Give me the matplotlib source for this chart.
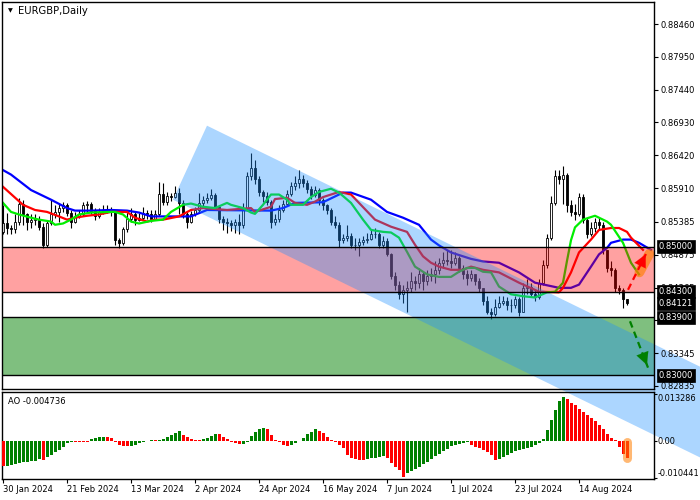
import numpy as np
import matplotlib.pyplot as plt
import matplotlib.transforms as mtransforms
from matplotlib.patches import Polygon

# ---- daily candles (EURGBP) ----
first_open = 0.8523
closes = [0.8537, 0.8529, 0.8528, 0.8539, 0.8567, 0.8551, 0.8539, 0.8542, 0.8543, 0.8531,
          0.8503, 0.8536, 0.8550, 0.8554, 0.8560, 0.8565, 0.8553, 0.8539, 0.8548, 0.8551,
          0.8564, 0.8567, 0.8556, 0.8548, 0.8554, 0.8556, 0.8559, 0.8554, 0.8511, 0.8506,
          0.8528, 0.8543, 0.8551, 0.8542, 0.8545, 0.8553, 0.8550, 0.8543, 0.8551, 0.8582,
          0.8570, 0.8579, 0.8577, 0.8584, 0.8568, 0.8550, 0.8539, 0.8551, 0.8557, 0.8568,
          0.8573, 0.8576, 0.8581, 0.8562, 0.8543, 0.8539, 0.8537, 0.8533, 0.8539, 0.8533,
          0.8560, 0.8610, 0.8622, 0.8605, 0.8585, 0.8579, 0.8570, 0.8539, 0.8543, 0.8557,
          0.8567, 0.8582, 0.8595, 0.8599, 0.8605, 0.8599, 0.8590, 0.8581, 0.8588, 0.8573,
          0.8564, 0.8557, 0.8539, 0.8534, 0.8511, 0.8514, 0.8517, 0.8502, 0.8503, 0.8508,
          0.8511, 0.8512, 0.8519, 0.8520, 0.8502, 0.8509, 0.8488, 0.8455, 0.8441, 0.8426,
          0.8433, 0.8436, 0.8447, 0.8444, 0.8457, 0.8447, 0.8454, 0.8458, 0.8464, 0.8474,
          0.8480, 0.8477, 0.8474, 0.8483, 0.8467, 0.8458, 0.8452, 0.8457, 0.8447, 0.8436,
          0.8415, 0.8399, 0.8395, 0.8407, 0.8413, 0.8416, 0.8409, 0.8409, 0.8418, 0.8399,
          0.8435, 0.8438, 0.8427, 0.8421, 0.8443, 0.8472, 0.8514, 0.8568, 0.8610, 0.8605,
          0.8612, 0.8565, 0.8554, 0.8551, 0.8577, 0.8542, 0.8520, 0.8529, 0.8539, 0.8534,
          0.8495, 0.8467, 0.8464, 0.8436, 0.8433, 0.8418, 0.84121]
highs = [0.8565, 0.8553, 0.8534, 0.8550, 0.8576, 0.8573, 0.8553, 0.8550, 0.8551, 0.8548,
         0.8536, 0.8542, 0.8574, 0.8565, 0.8568, 0.8570, 0.8568, 0.8557, 0.8554, 0.8557,
         0.8570, 0.8571, 0.8570, 0.8560, 0.8560, 0.8564, 0.8564, 0.8562, 0.8557, 0.8514,
         0.8531, 0.8554, 0.8560, 0.8554, 0.8553, 0.8562, 0.8557, 0.8557, 0.8557, 0.8601,
         0.8599, 0.8585, 0.8584, 0.8595, 0.8591, 0.8572, 0.8554, 0.8556, 0.8562, 0.8584,
         0.8579, 0.8584, 0.8590, 0.8584, 0.8565, 0.8548, 0.8545, 0.8542, 0.8543, 0.8550,
         0.8568, 0.8616, 0.8646, 0.8635, 0.8610, 0.8588, 0.8585, 0.8573, 0.8551, 0.8564,
         0.8573, 0.8588, 0.8601, 0.8610, 0.8619, 0.8612, 0.8604, 0.8595, 0.8595, 0.8591,
         0.8576, 0.8567, 0.8560, 0.8547, 0.8539, 0.8520, 0.8533, 0.8522, 0.8514, 0.8514,
         0.8517, 0.8522, 0.8526, 0.8529, 0.8523, 0.8517, 0.8514, 0.8490, 0.8461, 0.8446,
         0.8441, 0.8446, 0.8461, 0.8455, 0.8467, 0.8461, 0.8464, 0.8467, 0.8477, 0.8483,
         0.8492, 0.8495, 0.8495, 0.8492, 0.8486, 0.8471, 0.8464, 0.8464, 0.8458, 0.8452,
         0.8436, 0.8424, 0.8405, 0.8418, 0.8424, 0.8424, 0.8421, 0.8418, 0.8424, 0.8421,
         0.8443, 0.8449, 0.8443, 0.8432, 0.8449, 0.8480, 0.8520, 0.8579, 0.8619, 0.8619,
         0.8626, 0.8615, 0.8573, 0.8567, 0.8584, 0.8582, 0.8545, 0.8539, 0.8545, 0.8545,
         0.8539, 0.8495, 0.8477, 0.8467, 0.8440, 0.8435, 0.8418]
lows = [0.8519, 0.8520, 0.8520, 0.8522, 0.8533, 0.8533, 0.8526, 0.8529, 0.8534, 0.8526,
        0.8498, 0.8500, 0.8533, 0.8545, 0.8539, 0.8554, 0.8548, 0.8529, 0.8536, 0.8545,
        0.8548, 0.8554, 0.8551, 0.8542, 0.8545, 0.8551, 0.8553, 0.8548, 0.8503, 0.8498,
        0.8503, 0.8523, 0.8539, 0.8533, 0.8540, 0.8542, 0.8543, 0.8539, 0.8542, 0.8548,
        0.8564, 0.8565, 0.8571, 0.8576, 0.8550, 0.8545, 0.8529, 0.8536, 0.8548, 0.8554,
        0.8560, 0.8568, 0.8573, 0.8557, 0.8536, 0.8526, 0.8522, 0.8525, 0.8522, 0.8520,
        0.8529, 0.8558, 0.8604, 0.8598, 0.8579, 0.8570, 0.8564, 0.8529, 0.8533, 0.8539,
        0.8554, 0.8564, 0.8579, 0.8588, 0.8591, 0.8593, 0.8584, 0.8574, 0.8577, 0.8565,
        0.8557, 0.8551, 0.8533, 0.8529, 0.8500, 0.8506, 0.8509, 0.8498, 0.8495, 0.8485,
        0.8502, 0.8505, 0.8511, 0.8514, 0.8498, 0.8498, 0.8485, 0.8449, 0.8433, 0.8418,
        0.8412, 0.8398, 0.8430, 0.8433, 0.8436, 0.8433, 0.8440, 0.8446, 0.8444, 0.8458,
        0.8467, 0.8471, 0.8467, 0.8471, 0.8461, 0.8449, 0.8441, 0.8446, 0.8441, 0.8430,
        0.8410, 0.8395, 0.8387, 0.8393, 0.8405, 0.8409, 0.8402, 0.8399, 0.8404, 0.8393,
        0.8399, 0.8426, 0.8421, 0.8415, 0.8418, 0.8440, 0.8467, 0.8511, 0.8564, 0.8598,
        0.8567, 0.8554, 0.8548, 0.8542, 0.8548, 0.8536, 0.8514, 0.8517, 0.8523, 0.8526,
        0.8489, 0.8461, 0.8455, 0.8430, 0.8427, 0.8405, 0.8409]

# ---- Alligator lines (bar index, price) ----
jaw_x = [0, 2, 7, 12, 16, 18, 22, 27, 31, 34, 37, 40, 47, 51, 67, 70, 73, 80, 85, 87,
         92, 96, 100, 104, 107, 109, 112, 117, 120, 124, 129, 133, 136, 139, 142, 144, 147, 149, 151, 152,
         155, 157, 159, 162]
jaw_y = [0.8619, 0.8612, 0.8588, 0.8573, 0.8560, 0.8556, 0.8556, 0.8557, 0.8556, 0.8553,
         0.8547, 0.8547, 0.8547, 0.8557, 0.8556, 0.8560, 0.8568, 0.8569, 0.8584, 0.8584,
         0.8573, 0.8554, 0.8545, 0.8534, 0.8511, 0.8502, 0.8491, 0.8481, 0.8477, 0.8475,
         0.8460, 0.8444, 0.8440, 0.8436, 0.8436, 0.8441, 0.8469, 0.8488, 0.8498, 0.8506,
         0.8511, 0.8511, 0.8506, 0.8495]
teeth_x = [0, 5, 8, 11, 14, 16, 18, 21, 24, 27, 31, 33, 36, 38, 40, 44, 47, 50, 56, 62,
           63, 67, 68, 71, 73, 76, 78, 80, 84, 87, 89, 93, 97, 101, 103, 105, 107, 109, 112, 115,
           117, 120, 124, 129, 134, 139, 140, 142, 144, 147, 149, 152, 154, 156, 157, 160]
teeth_y = [0.8593, 0.8565, 0.8557, 0.8554, 0.8547, 0.8542, 0.8545, 0.8548, 0.8550, 0.8554,
           0.8554, 0.8545, 0.8539, 0.8542, 0.8542, 0.8547, 0.8557, 0.8560, 0.8557, 0.8560,
           0.8554, 0.8562, 0.8574, 0.8576, 0.8568, 0.8565, 0.8570, 0.8577, 0.8585, 0.8581,
           0.8568, 0.8542, 0.8531, 0.8523, 0.8503, 0.8485, 0.8475, 0.8469, 0.8464, 0.8464,
           0.8469, 0.8464, 0.8460, 0.8444, 0.8430, 0.8429, 0.8436, 0.8460, 0.8491, 0.8511,
           0.8526, 0.8529, 0.8529, 0.8523, 0.8514, 0.8495]
lips_x = [0, 2, 4, 7, 9, 12, 13, 15, 17, 19, 22, 27, 28, 30, 32, 34, 37, 40, 42, 45,
          47, 50, 53, 56, 57, 60, 62, 63, 65, 67, 69, 71, 72, 75, 77, 79, 82, 84, 87, 90,
          92, 95, 97, 99, 101, 103, 106, 109, 112, 114, 116, 118, 120, 122, 124, 127, 130, 133, 136, 138,
          140, 141, 142, 143, 145, 148, 151, 152, 155, 157, 159]
lips_y = [0.8568, 0.8554, 0.8550, 0.8545, 0.8542, 0.8539, 0.8534, 0.8536, 0.8542, 0.8550,
          0.8553, 0.8554, 0.8554, 0.8550, 0.8539, 0.8536, 0.8540, 0.8542, 0.8554, 0.8565,
          0.8567, 0.8562, 0.8560, 0.8568, 0.8565, 0.8560, 0.8553, 0.8551, 0.8565, 0.8581,
          0.8581, 0.8573, 0.8565, 0.8565, 0.8577, 0.8585, 0.8590, 0.8584, 0.8568, 0.8542,
          0.8526, 0.8523, 0.8522, 0.8514, 0.8492, 0.8469, 0.8457, 0.8453, 0.8453, 0.8461,
          0.8467, 0.8467, 0.8461, 0.8460, 0.8438, 0.8426, 0.8423, 0.8421, 0.8429, 0.8430,
          0.8444, 0.8478, 0.8510, 0.8530, 0.8542, 0.8548, 0.8539, 0.8534, 0.8506, 0.8475,
          0.8457]

# ---- Awesome Oscillator ----
ao = [-0.0071, -0.0070, -0.0069, -0.0066, -0.0063, -0.0061, -0.0060, -0.0058, -0.0056, -0.0052,
      -0.0054, -0.0047, -0.0040, -0.0033, -0.0027, -0.0017, -0.0007, -0.0003, -0.0003, -0.0003,
      -0.0004, -0.0004, 0.0004, 0.0009, 0.0011, 0.0012, 0.0011, 0.0007, -0.0003, -0.0011,
      -0.0015, -0.0016, -0.0015, -0.0011, -0.0007, -0.0004, -0.0001, 0.0001, 0.0001, 0.0003,
      0.0006, 0.0010, 0.0016, 0.0023, 0.0028, 0.0017, 0.0010, 0.0005, 0.0003, 0.0002,
      0.0004, 0.0008, 0.0013, 0.0019, 0.0018, 0.0011, 0.0005, -0.0002, -0.0006, -0.0010,
      -0.0008, -0.0002, 0.0014, 0.0026, 0.0032, 0.0035, 0.0032, 0.0016, 0.0003, -0.0004,
      -0.0011, -0.0014, -0.0012, -0.0007, -0.0001, 0.0008, 0.0018, 0.0026, 0.0032, 0.0029,
      0.0022, 0.0012, 0.0003, -0.0004, -0.0012, -0.0020, -0.0039, -0.0048, -0.0052, -0.0054,
      -0.0055, -0.0052, -0.0050, -0.0048, -0.0045, -0.0044, -0.0049, -0.0063, -0.0073, -0.0082,
      -0.0102, -0.0090, -0.0085, -0.0080, -0.0073, -0.0066, -0.0059, -0.0052, -0.0044, -0.0036,
      -0.0029, -0.0022, -0.0016, -0.0011, -0.0008, -0.0005, -0.0004, -0.0011, -0.0017, -0.0021,
      -0.0026, -0.0033, -0.0040, -0.0053, -0.0051, -0.0045, -0.0039, -0.0034, -0.0030, -0.0027,
      -0.0024, -0.0021, -0.0017, -0.0012, -0.0005, 0.0004, 0.0030, 0.0058, 0.0088, 0.0112,
      0.0125, 0.0118, 0.0106, 0.0102, 0.0090, 0.0081, 0.0072, 0.0065, 0.0056, 0.0044,
      0.0032, 0.0020, 0.0008, 0.0002, -0.0017, -0.0037, -0.004736]

date_idx = [0, 16, 32, 48, 64, 80, 96, 112, 128, 144]
date_labels = ["30 Jan 2024", "21 Feb 2024", "13 Mar 2024", "2 Apr 2024", "24 Apr 2024",
               "16 May 2024", "7 Jun 2024", "1 Jul 2024", "23 Jul 2024", "14 Aug 2024"]
price_ticks = [0.88460, 0.87950, 0.87440, 0.86930, 0.86420, 0.85910, 0.85385,
               0.84875, 0.84365, 0.83855, 0.83345, 0.82835]
ao_ticks = [0.013286, 0.0, -0.010441]
ao_tick_labels = ["0.013286", "0.00", "-0.010441"]

# levels / zones / drawings
levels = [0.8500, 0.8430, 0.8390, 0.8300]
box_levels = [0.8500, 0.8430, 0.84121, 0.8390, 0.8300]
sell_zone = (0.8430, 0.8500)
target_zone = (0.8300, 0.8390)
channel_x = [51, 180, 180, 42.5]
channel_y = [0.8688, 0.8296, 0.8155, 0.8573]
red_arrow_x = [156.25, 161.0]
red_arrow_y = [0.8433, 0.8492]
green_arrow_x = [156.75, 161.25]
green_arrow_y = [0.8384, 0.8312]
mark_x = [159.1, 161.6]
mark_y = [0.8460, 0.8489]
ao_mark_x = [156, 156]
ao_mark_y = [-0.0003, -0.0050]

plt.rcParams['font.family'] = 'DejaVu Sans'
plt.rcParams['font.size'] = 6

fig = plt.figure(figsize=(7, 5), dpi=100)
ax = fig.add_axes([2 / 700, 111 / 500, 652 / 700, 387 / 500])
ax2 = fig.add_axes([2 / 700, 21 / 500, 652 / 700, 87 / 500])
ax2.set_facecolor('none')

idx = np.arange(len(closes))
c = np.array(closes)
o = np.array([first_open] + closes[:-1])
up = c >= o

# candles
ax.vlines(idx, lows, highs, color='black', lw=0.8, zorder=2)
body = np.maximum(np.abs(c - o), 0.00003)
ax.bar(idx, body, bottom=np.minimum(o, c), width=0.55,
       color=np.where(up, 'white', 'black'), edgecolor='black', linewidth=0.6, zorder=2.2)

# alligator
ax.plot(jaw_x, jaw_y, color='#0000ff', lw=1.6, zorder=3)
ax.plot(teeth_x, teeth_y, color='#ff0000', lw=1.6, zorder=3)
ax.plot(lips_x, lips_y, color='#00ee00', lw=1.6, zorder=3)

# zones and channel
ax.axhspan(*sell_zone, color='#ff0000', alpha=0.37, lw=0, zorder=4)
ax.axhspan(*target_zone, color='#008000', alpha=0.5, lw=0, zorder=4)
chan = Polygon(list(zip(channel_x, channel_y)), closed=True, facecolor='#1e90ff',
               alpha=0.37, lw=0, zorder=4.2, clip_on=False)
ax.add_patch(chan)
for lv in levels:
    ax.axhline(lv, color='black', lw=1, zorder=5)

# forecast arrows
ax.plot(mark_x, mark_y, color='#ff7f00', lw=7, alpha=0.65, solid_capstyle='round', zorder=5.5)
for xs, ys, col in [(red_arrow_x, red_arrow_y, '#ff0000'), (green_arrow_x, green_arrow_y, '#008000')]:
    ax.plot(xs, ys, color=col, lw=1.6, ls=(0, (3, 2)), zorder=6)
    tail = (xs[1] - 0.3 * (xs[1] - xs[0]), ys[1] - 0.3 * (ys[1] - ys[0]))
    ax.annotate('', xy=(xs[1], ys[1]), xytext=tail,
                arrowprops=dict(arrowstyle='-|>,head_length=0.9,head_width=0.45',
                                color=col, lw=0.1, mutation_scale=10), zorder=6)

ax.set_xlim(-0.25, 162.75)
ax.set_ylim(0.82788, 0.88802)
ax.set_xticks([])
ax.yaxis.tick_right()
ax.set_yticks(price_ticks)
ax.set_yticklabels([f'{t:.5f}' for t in price_ticks])
ax.tick_params(axis='y', length=3, width=0.8, pad=2, labelsize=6)
ax.xaxis.set_zorder(7)
ax.yaxis.set_zorder(7)
for sp in ax.spines.values():
    sp.set_linewidth(1)
    sp.set_zorder(7)

trans = mtransforms.blended_transform_factory(ax.transAxes, ax.transData)
for v in box_levels:
    ax.text(1.0072, v, f'{v:.5f}', transform=trans, ha='left', va='center', color='white',
            fontsize=6, clip_on=False, zorder=10,
            bbox=dict(boxstyle='square,pad=0.22', fc='black', ec='black', lw=0.5))

ax.text(0.0125, 0.977, '\u25bc', transform=ax.transAxes, fontsize=4.5, va='center', ha='center')
ax.text(0.0245, 0.977, 'EURGBP,Daily', transform=ax.transAxes, fontsize=7.2, va='center', ha='left')

# AO panel
ao_arr = np.array(ao)
ao_up = np.concatenate([[False], ao_arr[1:] > ao_arr[:-1]])
ax2.bar(idx, ao_arr, width=0.75, color=np.where(ao_up, '#008000', '#ff0000'), lw=0, zorder=3)
ax2.plot(ao_mark_x, ao_mark_y, color='#ff7f00', lw=6.5, alpha=0.55, solid_capstyle='round', zorder=4)
ax2.set_xlim(-0.25, 162.75)
ax2.set_ylim(-0.0108, 0.0138)
ax2.yaxis.tick_right()
ax2.set_yticks(ao_ticks)
ax2.set_yticklabels(ao_tick_labels)
ax2.tick_params(axis='y', length=2, width=0.8, pad=0.8, labelsize=5.9)
ticks = ax2.yaxis.get_major_ticks()
ticks[0].label2.set_va('top')
ticks[2].label2.set_va('bottom')
ax2.set_xticks(date_idx)
ax2.set_xticklabels(date_labels, ha='left')
ax2.tick_params(axis='x', length=3, width=0.8, pad=1.5, labelsize=6)
for sp in ax2.spines.values():
    sp.set_linewidth(1)
ax2.text(0.0092, 0.895, 'AO -0.004736', transform=ax2.transAxes, fontsize=6, va='center', ha='left')

fig.savefig('out.png', dpi=100)
